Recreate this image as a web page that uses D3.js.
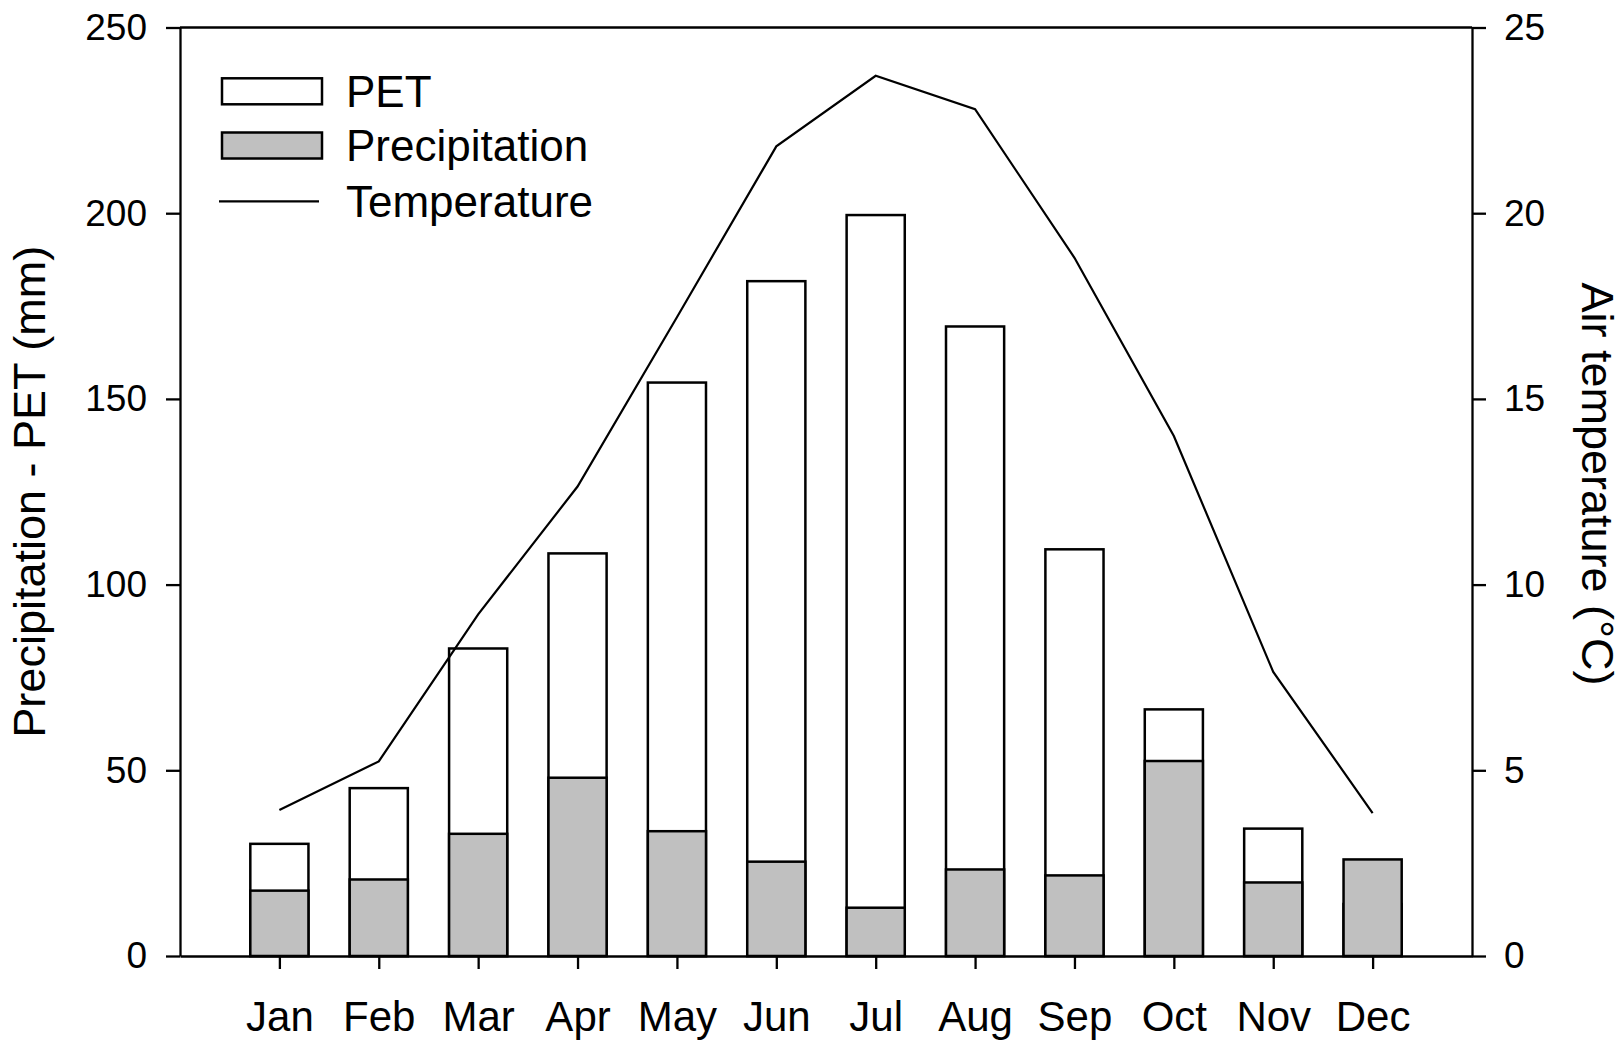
<!DOCTYPE html>
<html>
<head>
<meta charset="utf-8">
<script src="https://cdn.jsdelivr.net/npm/d3@7"></script>
<style>
  html, body { margin: 0; padding: 0; background: #fff; }
  svg { display: block; }
  text { font-family: "Liberation Sans", Arial, Helvetica, sans-serif; fill: #000; }
</style>
</head>
<body>
<svg id="chart" width="1623" height="1046"></svg>
<script>
// Monthly climate data
const months = ["Jan", "Feb", "Mar", "Apr", "May", "Jun", "Jul", "Aug", "Sep", "Oct", "Nov", "Dec"];
const pet = [30.2, 45.2, 82.8, 108.4, 154.4, 181.7, 199.5, 169.5, 109.5, 66.4, 34.3, 14.0];      // mm
const precipitation = [17.6, 20.6, 32.9, 48.0, 33.6, 25.4, 13.0, 23.3, 21.7, 52.5, 19.8, 26.0]; // mm
const temperature = [3.93, 5.24, 9.2, 12.64, 17.2, 21.8, 23.7, 22.8, 18.8, 14.0, 7.65, 3.85];  // °C
const leftTicks = [0, 50, 100, 150, 200, 250];
const rightTicks = [0, 5, 10, 15, 20, 25];
const legendLabels = ["PET", "Precipitation", "Temperature"];

const svg = d3.select("#chart");
const plot = { left: 180, right: 1472, top: 27.5, bottom: 956 };
const FONT_TICK = 37, FONT_MONTH = 42, FONT_LEGEND = 44;
const GRAY = "#c0c0c0";

const x = d3.scaleLinear().domain([0, months.length + 1]).range([plot.left, plot.right]);
const y = d3.scaleLinear().domain([0, 250]).range([plot.bottom, plot.top]);
const yT = d3.scaleLinear().domain([0, 25]).range([plot.bottom, plot.top]);
const barW = (x(1) - x(0)) * 0.585;

const rows = months.map((m, i) => ({ m, i: i + 1, pet: pet[i], p: precipitation[i], t: temperature[i] }));

// PET bars (behind)
svg.append("g").selectAll("rect").data(rows).join("rect")
  .attr("x", d => x(d.i) - barW / 2)
  .attr("y", d => y(d.pet))
  .attr("width", barW)
  .attr("height", d => y(0) - y(d.pet))
  .attr("fill", "#fff").attr("stroke", "#000").attr("stroke-width", 2.5);

// Precipitation bars (in front)
svg.append("g").selectAll("rect").data(rows).join("rect")
  .attr("x", d => x(d.i) - barW / 2)
  .attr("y", d => y(d.p))
  .attr("width", barW)
  .attr("height", d => y(0) - y(d.p))
  .attr("fill", GRAY).attr("stroke", "#000").attr("stroke-width", 2.5);

// Temperature line
const line = d3.line().x(d => x(d.i)).y(d => yT(d.t));
svg.append("path").datum(rows)
  .attr("d", line)
  .attr("fill", "none").attr("stroke", "#000").attr("stroke-width", 2.2)
  .attr("stroke-linejoin", "miter");

// Axes
function styleAxis(g, size) {
  g.selectAll(".domain").attr("stroke", "#000").attr("stroke-width", 2.3);
  g.selectAll(".tick line").attr("stroke", "#000").attr("stroke-width", 2.3);
  g.selectAll(".tick text").attr("font-size", size)
    .attr("font-family", '"Liberation Sans", Arial, sans-serif');
}

const gLeft = svg.append("g").attr("transform", `translate(${plot.left},0)`)
  .call(d3.axisLeft(y).tickValues(leftTicks).tickSize(14).tickSizeOuter(0).tickPadding(19));
styleAxis(gLeft, FONT_TICK);

const gRight = svg.append("g").attr("transform", `translate(${plot.right},0)`)
  .call(d3.axisRight(yT).tickValues(rightTicks).tickSize(14).tickSizeOuter(0).tickPadding(18));
styleAxis(gRight, FONT_TICK);

const gBottom = svg.append("g").attr("transform", `translate(0,${plot.bottom})`)
  .call(d3.axisBottom(x).tickValues(rows.map(d => d.i)).tickFormat(v => months[v - 1])
    .tickSize(13).tickSizeOuter(0).tickPadding(32));
styleAxis(gBottom, FONT_MONTH);

// Top frame line
svg.append("line")
  .attr("x1", plot.left).attr("x2", plot.right)
  .attr("y1", plot.top).attr("y2", plot.top)
  .attr("stroke", "#000").attr("stroke-width", 2.3);

// Axis titles
svg.append("text")
  .attr("transform", `translate(45,${(plot.top + plot.bottom) / 2}) rotate(-90)`)
  .attr("text-anchor", "middle").attr("font-size", 45)
  .text("Precipitation - PET (mm)");

svg.append("text")
  .attr("transform", `translate(1582,484) rotate(90)`)
  .attr("text-anchor", "middle").attr("font-size", 45)
  .text("Air temperature (°C)");

// Legend
const legend = svg.append("g");
const legendRows = [
  { label: legendLabels[0], kind: "bar", fill: "#fff", cy: 91.3 },
  { label: legendLabels[1], kind: "bar", fill: GRAY, cy: 145.5 },
  { label: legendLabels[2], kind: "line", cy: 201.3 }
];
legendRows.forEach(r => {
  if (r.kind === "bar") {
    legend.append("rect")
      .attr("x", 222).attr("y", r.cy - 13).attr("width", 100).attr("height", 26)
      .attr("fill", r.fill).attr("stroke", "#000").attr("stroke-width", 2.5);
  } else {
    legend.append("line")
      .attr("x1", 219).attr("x2", 319).attr("y1", r.cy).attr("y2", r.cy)
      .attr("stroke", "#000").attr("stroke-width", 2.2);
  }
  legend.append("text")
    .attr("x", 346).attr("y", r.cy + 15.8)
    .attr("font-size", FONT_LEGEND)
    .text(r.label);
});
</script>
</body>
</html>
